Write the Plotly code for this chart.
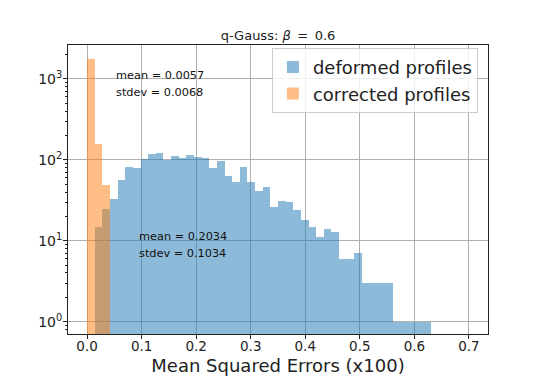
import numpy as np
import plotly.graph_objects as go

# Histogram data (bin width 0.014, bins starting at 0)
bin_width = 0.014
deformed_counts = [None, 15, 25, 33, 56, 81, 79, 104, 118, 121, 100, 111, 105, 114, 109,
                   107, 79, 98, 63, 53, 81, 53, 41, 46, 26, 31, 30, 24, 18, 15, 11, 14,
                   13, 6, 6, 7, 3, 3, 3, 3, 1, 1, 1, 1, 1]
corrected_counts = [1790, 159, 49]

x_ticks = [0.0, 0.1, 0.2, 0.3, 0.4, 0.5, 0.6, 0.7]
x_ticklabels = ["0.0", "0.1", "0.2", "0.3", "0.4", "0.5", "0.6", "0.7"]
y_ticks = [1, 10, 100, 1000]
y_ticklabels = ["10<sup>0</sup>", "10<sup>1</sup>", "10<sup>2</sup>", "10<sup>3</sup>"]
y_minor = [m * 10 ** e for e in range(-1, 4) for m in range(2, 10)]

stats_deformed = ("mean = 0.2034", "stdev = 0.1034")
stats_corrected = ("mean = 0.0057", "stdev = 0.0068")


def centers(n):
    return (np.arange(n) + 0.5) * bin_width


FONT = "DejaVu Sans"
# The page body has an 8px default margin; size the figure so it fits the window.
W, H, OFF = 542, 376, 8
FW, FH = W - OFF, H - OFF

fig = go.Figure()
fig.add_trace(go.Bar(
    x=centers(len(deformed_counts)), y=deformed_counts, width=bin_width,
    name="deformed profiles", marker=dict(color="#1f77b4", line=dict(width=0)),
    opacity=0.5,
))
fig.add_trace(go.Bar(
    x=centers(len(corrected_counts)), y=corrected_counts, width=bin_width,
    name="corrected profiles", marker=dict(color="#ff7f0e", line=dict(width=0)),
    opacity=0.5,
))

axis_common = dict(
    showline=True, linecolor="#222", linewidth=1, mirror=True,
    ticks="outside", ticklen=4, tickcolor="#222",
    showgrid=True, gridcolor="#b0b0b0", gridwidth=1, zeroline=False,
    automargin=False,
)

fig.update_layout(
    width=FW, height=FH,
    margin=dict(l=68 - OFF, r=54, t=45 - OFF, b=42),
    paper_bgcolor="white", plot_bgcolor="white",
    barmode="overlay", bargap=0,
    font=dict(family=FONT, color="#222"),
    title=dict(text="q-Gauss: <i>β</i>\u2002=\u20020.6", x=0.5, xanchor="center",
               xref="paper",
               y=1 - (35 - OFF) / FH, yanchor="middle", font=dict(size=13, family=FONT)),
    xaxis=dict(range=[-0.035, 0.735], tickvals=x_ticks, ticktext=x_ticklabels,
               tickfont=dict(size=13.5), ticklabelstandoff=-4,
               title=dict(text="Mean Squared Errors (x100)", font=dict(size=18), standoff=14),
               **axis_common),
    yaxis=dict(type="log", range=[-0.152, 3.42], tickvals=y_ticks, ticktext=y_ticklabels,
               tickfont=dict(size=14), ticklabelstandoff=-2,
               minor=dict(tickvals=y_minor, ticks="outside", ticklen=2, tickcolor="#222",
                          showgrid=False),
               **axis_common),
    legend=dict(x=0.976, y=0.99, xanchor="right", yanchor="top",
                bgcolor="rgba(255,255,255,0.8)", bordercolor="#cccccc", borderwidth=1,
                font=dict(size=18), itemsizing="constant", tracegroupgap=0),
    showlegend=True,
)

ann_font = dict(size=11.3, family=FONT, color="#111")
for text, yp in zip(stats_corrected, [0.896, 0.835]):
    fig.add_annotation(text=text, xref="paper", yref="paper", x=0.1095, y=yp,
                       xanchor="left", yanchor="middle", showarrow=False, font=ann_font)
for text, yp in zip(stats_deformed, [0.336, 0.277]):
    fig.add_annotation(text=text, xref="paper", yref="paper", x=0.1636, y=yp,
                       xanchor="left", yanchor="middle", showarrow=False, font=ann_font)

fig.write_html("out.html")
